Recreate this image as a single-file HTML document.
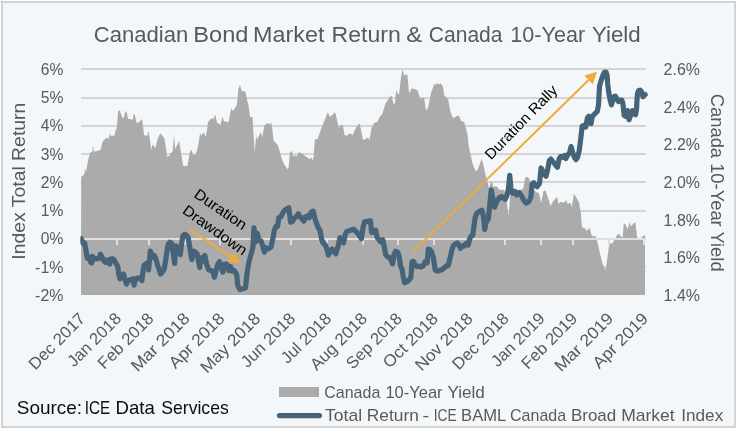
<!DOCTYPE html>
<html lang="en"><head><meta charset="utf-8"><title>Canadian Bond Market Return &amp; Canada 10-Year Yield</title>
<style>html,body{margin:0;padding:0;background:#fff}svg{display:block;will-change:transform;filter:opacity(1)}text{font-family:"Liberation Sans", sans-serif}</style>
</head><body>
<svg width="737" height="428" viewBox="0 0 737 428">
<rect x="0" y="0" width="737" height="428" fill="#ffffff"/>
<rect x="1" y="1" width="735" height="427" fill="#d3d3d3"/>
<rect x="3" y="3" width="731" height="423" fill="#f3f7fa"/>
<rect x="1" y="1" width="1" height="1" fill="#8f8f8f"/>
<g stroke="#d4d4d4" stroke-width="2">
<line x1="81" y1="267" x2="646" y2="267"/>
<line x1="81" y1="211" x2="646" y2="211"/>
<line x1="81" y1="182" x2="646" y2="182"/>
<line x1="81" y1="154" x2="646" y2="154"/>
<line x1="81" y1="126" x2="646" y2="126"/>
<line x1="81" y1="98" x2="646" y2="98"/>
<line x1="81" y1="69" x2="646" y2="69"/>
</g>
<polygon fill="#ababab" points="81 295,81.2,176.8 84.1,174.7 85,168.2 86,172.5 86.9,166.9 88.5,158.2 90.1,152.8 92.3,151.7 93,145.2 93.9,151.7 96.1,151.2 99.3,150.6 101,149 102.6,141.4 104.8,139.2 107.5,137.6 108.6,139.2 110.2,133.3 111,136 114.5,135.6 115.6,130 116.67,128.67 118.09,111.37 119.72,110.35 122.37,118.09 123.79,117.48 125.22,111.98 126.44,111.37 128.07,119.1 130.92,119.1 132.14,120.94 133.77,114.42 134.58,113.81 136.41,122.56 139.06,122.56 141.5,119.1 142.31,120.53 144.15,135.18 147.2,135.79 148.62,130.71 151.27,150.04 152.49,144.55 155.34,148.01 157.78,138.44 160.23,133.35 163.48,137.22 164.5,138.85 167.15,156.76 168.98,156.15 172.64,151.06 174.07,134.78 175.08,149.02 179.15,140.88 180.37,149.02 183.22,165.92 187.29,165.92 189.94,152.08 191.57,149.63 192.99,154.72 195.64,154.72 198.08,145.97 200.12,132.74 201.13,135.79 203.17,132.74 204.19,133.15 205.82,137.22 208.26,121.55 210.29,119.51 212.33,118.09 213.35,119.51 215.18,114.42 217.01,122.56 220.47,125.01 222.44,116.64 224.07,121.32 228.55,122.33 231.19,108.49 233.23,110.94 236.89,104.83 238.32,89.16 239.95,85.09 241.98,91.19 245.44,91.19 247.07,100.35 248.49,105.44 250.12,117.04 252.56,117.04 254.6,152.25 256.23,134.95 257.04,140.04 260.71,131.9 262.33,136.99 264.37,125.79 266.4,123.76 269.46,123.15 270.47,125.18 271.7,122.74 273.53,141.06 273.6,139.8 274.7,141.9 276.8,144.1 277.9,145.7 279.5,150.6 281.2,157.1 283.3,162.6 285.5,166.4 288,169.6 288.8,165.8 289.9,152.8 290.9,151.2 292,151.7 292.8,156.6 293.6,154.4 294.5,157.1 295.3,154.4 296.4,157.1 297.4,154.4 298.5,152.8 299.6,152.3 301.2,153.3 303.4,154.4 305,156.1 307.8,157.7 309.9,159.3 311.2,157.1 312.6,160.4 313.7,156.1 314.8,139.2 317.5,139.2 321.15,128.85 324.82,119.69 327.87,112.16 329.91,116.64 332.35,115.01 334.59,112.56 335.6,113.58 338.66,127.83 340.08,125.79 342.73,124.78 344.56,134.95 346.59,135.97 347.82,134.55 350.26,133.32 352.7,134.95 355.96,127.83 359.62,123.15 363.08,140.04 365.52,139.02 368.17,137.6 369.48,140.36 371.51,128.15 374.16,123.06 377.21,122.04 379.65,116.95 382.3,113.9 385.35,103.72 387.39,100.67 389.42,97.62 391.46,95.58 393.49,103.72 394.92,103.72 396.14,90.09 397.56,93.55 398.99,94.56 401.02,77.26 402.45,69.12 404.08,75.23 407.33,74.62 409.17,93.55 411.4,88.46 414.86,89.07 417.51,90.49 420.36,98.64 424.02,97.62 426.06,110.44 428.09,107.79 431.15,92.53 433.59,86.02 434.4,83.57 435.42,85.2 437.05,82.76 438.27,84.39 440.71,83.57 441.93,84.8 442.95,86.83 444.38,95.58 448.04,99.04 450.48,111.86 452.92,117.97 455.57,116.95 457.61,115.53 459.64,116.95 461.07,121.02 464.12,122.04 465.75,127.13 467.6,135 468.5,144.4 470.5,154.6 472.6,163.8 475.6,170.9 477.7,169.9 481.7,158.5 483.8,166.8 485.5,174.6 487.8,183 489,188 491.37,180.53 493.41,186.64 496.46,186.23 499.51,189.69 503.58,189.69 505.62,192.74 507.65,209.02 508.67,215.13 510.09,196.81 512.74,193.76 515.79,187.65 517.83,190.71 520.88,189.69 523.32,188.67 524.95,178.49 526.99,176.46 529.02,178.49 531.06,182.56 533.09,189.69 536.15,191.72 539.2,193.76 541.23,202.92 543.27,191.72 545.31,190.3 548.36,198.85 550.39,205.97 553.45,200.88 557.11,196.81 558.53,203.93 560.57,201.9 564.64,202.51 566.07,199.86 567.69,203.93 570.14,202.51 571.76,206.99 573.8,193.76 575.83,196.81 578.89,201.9 580.92,213.09 581.94,227.34 585.23,228.5 586.87,231.54 588.04,229.21 589.67,228.04 591.54,235.05 593.88,236.68 595.51,235.51 597.38,242.06 599.25,250.23 600.89,257.24 602.76,264.25 604.39,267.76 605.56,270.09 606.73,263.08 607.9,253.74 609.07,245.56 610.23,243.22 612.57,243.22 614.91,238.55 617.24,235.05 618.88,233.41 620.75,236.21 622.62,237.38 623.79,223.36 625.42,224.53 627.76,229.21 629.63,221.5 630.79,226.87 633.6,223.36 635.47,222.2 637.1,237.38 640.61,238.55 642.94,236.21 644.58,235.05 645.51,238.55 645,238.55 645,295"/>
<g stroke="#dfdfdf" stroke-width="2">
<line x1="81" y1="239" x2="646" y2="239"/>
<line x1="81" y1="238" x2="81" y2="245"/>
<line x1="117" y1="238" x2="117" y2="245"/>
<line x1="149" y1="238" x2="149" y2="245"/>
<line x1="185" y1="238" x2="185" y2="245"/>
<line x1="220" y1="238" x2="220" y2="245"/>
<line x1="256" y1="238" x2="256" y2="245"/>
<line x1="291" y1="238" x2="291" y2="245"/>
<line x1="327" y1="238" x2="327" y2="245"/>
<line x1="363" y1="238" x2="363" y2="245"/>
<line x1="398" y1="238" x2="398" y2="245"/>
<line x1="434" y1="238" x2="434" y2="245"/>
<line x1="469" y1="238" x2="469" y2="245"/>
<line x1="505" y1="238" x2="505" y2="245"/>
<line x1="541" y1="238" x2="541" y2="245"/>
<line x1="573" y1="238" x2="573" y2="245"/>
<line x1="609" y1="238" x2="609" y2="245"/>
<line x1="644" y1="238" x2="644" y2="245"/>
</g>
<line x1="189.2" y1="229.2" x2="230.79" y2="256.68" stroke="#f0aa3c" stroke-width="2"/>
<polygon fill="#f0aa3c" points="240.8,263.3 227.48,261.69 234.1,251.68"/>
<line x1="413.2" y1="251.7" x2="588.62" y2="79.99" stroke="#f0aa3c" stroke-width="2"/>
<polygon fill="#f0aa3c" points="597.2,71.6 592.82,84.28 584.43,75.71"/>
<clipPath id="pc"><rect x="80.4" y="60" width="568" height="240"/></clipPath>
<polyline clip-path="url(#pc)" fill="none" stroke="#456379" stroke-width="5.2" stroke-linejoin="round" stroke-linecap="round" points="81.3,238.8 82.41,241.76 83.64,244.05 84.7,243.17 85.94,250.22 87.17,258.16 88.94,257.28 90.7,262.22 91.76,262.92 92.46,256.4 94.76,259.04 97.4,258.69 99.17,258.16 100.4,254.28 101.81,256.4 103.58,260.45 105.34,262.22 107.1,259.92 108.34,262.92 109.75,263.98 110.63,259.04 112.4,258.69 114.16,259.92 115.92,263.45 117.69,266.1 118.92,274.92 119.98,278.8 121.74,276.68 123.51,274.04 124.74,278.45 126.51,284.09 127.92,281.09 129.51,279.86 131.8,280.21 133.03,278.8 134.09,285.15 135.33,279.33 137.09,278.09 138.85,278.45 140.62,277.56 141.85,280.56 143.26,269.63 144.15,265.22 145.91,263.98 147.15,262.92 148.56,269.98 150.32,251.1 151.73,254.63 152.97,257.28 154.2,255.51 155.61,258.16 157.38,264.33 159.14,269.63 160.55,274.04 162.31,272.27 164.08,269.27 165.31,262.57 167.08,250.22 168.31,244.05 169.72,242.28 171.49,243.17 173.25,253.75 174.66,263.45 175.9,245.81 177.66,247.58 178.9,251.99 180.31,254.63 181.72,243.17 182.95,235.76 184.72,234.35 186.48,235.23 188.24,237.88 190.01,248.46 191.77,259.39 193.54,251.1 195.3,251.99 197.06,253.75 198.3,259.92 199.71,267.51 200,264.37 201.78,257.71 203.33,261.04 204.88,255.49 206.66,264.37 208.88,269.92 211.1,270.58 212.87,271.47 214.43,277.24 215.98,271.03 217.76,264.37 219.53,261.71 221.09,266.59 222.86,272.14 224.42,264.37 226.19,263.93 227.75,265.48 228.86,270.58 230.63,266.59 232.18,271.03 234.4,270.58 236.62,274.36 237.73,285.46 239.95,289.45 243.28,288.79 245.5,287.68 247.06,273.25 248.83,262.15 251.05,254.38 252.83,247.72 253.94,227.75 255.49,242.17 257.27,233.29 258.82,239.95 261.04,241.06 262.59,245.5 264.37,252.16 266.14,247.72 268.36,248.83 271.03,247.06 272.8,238.84 274.36,229.96 275.91,226.64 277.69,226.19 278.8,217.76 281.02,216.65 283.24,212.21 285.01,209.99 287.01,208.88 288.79,207.77 290.56,222.2 292.78,221.09 294.33,217.76 296.55,216.65 298.33,213.76 299.88,216.65 302.1,218.87 303.88,221.09 305.43,216.65 307.65,215.98 309.21,217.76 310.98,212.21 313.2,211.1 314.98,218.87 316.53,223.31 318.75,228.86 320,230.23 321.68,239.7 323.15,242.85 325.26,244.95 326.94,249.16 328.41,255.05 330.09,250.21 332.2,249.16 334.3,252.31 335.77,253.79 337.87,247.06 339.98,237.59 342.08,240.75 343.55,242.85 345.23,234.44 346.92,231.29 349.44,230.65 351.54,229.81 353.64,229.18 355.75,231.29 357.85,233.39 359.95,236.54 361.43,238.64 363.11,227.08 364.58,221.82 367.31,221.4 370.47,220.77 371.52,232.34 373.62,231.92 375.72,230.23 377.2,237.59 378.88,239.7 380.56,241.8 382.66,239.7 384.14,246 385.61,254.42 387.29,256.52 389.39,257.57 391.07,259.67 392.55,263.88 394.02,254.42 395.7,251.26 397.8,252.31 399.28,257.57 400.54,265.98 402.01,269.14 403.06,275.44 404.53,282.8 406.64,281.75 408.74,280.28 410.84,277.55 412.1,261.78 413.57,261.36 415.68,265.98 417.15,266.61 418.83,265.98 420.93,267.03 423.04,265.98 425.14,261.78 427.24,262.83 428.29,249.16 429.77,249.58 431.87,252.31 433.55,258.62 435.23,270.19 437.63,271.21 440.09,270.39 443.36,268.76 445.81,266.3 448.26,265.49 449.9,258.95 451.53,251.59 453.17,245.87 454.8,244.23 457.25,242.93 458.89,245.05 460.52,248.32 462.16,245.87 464.12,246.2 466.24,243.42 468.21,245.05 469.51,239.33 471.15,236.06 472.78,235.24 473.93,226.25 475.23,217.26 476.87,213.17 479.32,211.54 481.77,210.23 483.08,214.81 484.23,222.98 484.72,229.52 485.86,222.98 488.31,218.9 491.25,190.05 492.89,199.04 494.52,207.22 496.97,201.01 499.43,197.41 501.88,196.59 503.51,198.39 505.15,199.37 506.78,196.1 508.42,188.91 509.73,175.34 510.87,187.6 512.5,193.32 514.96,191.69 516.59,194.96 519.04,192.5 521.5,195.77 523.95,200.68 526.4,203.13 528.85,201.5 530.81,197.41 532.12,184.33 533.76,182.7 535.39,185.15 537.03,186.78 539.48,183.51 541.11,167.98 542.75,171.25 544.38,174.52 546.02,176.16 547.65,169.62 549.29,160.63 550.92,158.99 553.37,162.26 555.83,165.53 557.46,167.17 559.1,158.99 560.73,156.54 563.18,157.36 564.52,155.58 565.83,158.53 567.79,154.77 569.43,153.13 571.06,146.59 572.7,152.31 574.33,157.22 575.97,159.67 577.6,157.22 579.23,150.68 580.87,137.6 582.18,126.16 584.14,125.34 585.77,126.97 587.41,117.98 588.72,116.35 589.86,117.98 591.01,123.7 592.31,116.35 594.77,113.9 597.22,111.44 598.53,104.9 599.54,85.88 601.17,80.45 602.8,75.68 604.42,72.42 606.05,72.09 607.14,75.68 607.68,83.71 608.44,90.22 609.31,95.65 610.39,101.08 611.48,104.88 612.56,101.08 613.87,96.74 615.28,96.19 616.36,97.82 617.45,99.99 618.53,101.62 620.16,99.99 621.79,99.99 622.88,103.25 624.2,115.5 625.8,116.3 627.5,110.6 629.1,119.6 630.7,114.7 632.4,110.6 634,113.9 635.6,114.7 636.6,108 637,100 637.5,93.5 638.6,90.8 640.2,90.2 641.3,91.3 642.4,94.6 643,96.7 644,95.6 645.1,94.6"/>
<text y="41.7" font-size="21.5" fill="#595959"><tspan x="93.87" textLength="94.35" lengthAdjust="spacingAndGlyphs">Canadian</tspan> <tspan x="193.38" textLength="55.13" lengthAdjust="spacingAndGlyphs">Bond</tspan> <tspan x="253.1" textLength="71.34" lengthAdjust="spacingAndGlyphs">Market</tspan> <tspan x="331.62" textLength="69.16" lengthAdjust="spacingAndGlyphs">Return</tspan> <tspan x="406.17" textLength="15.91" lengthAdjust="spacingAndGlyphs">&amp;</tspan> <tspan x="428.82" textLength="73.65" lengthAdjust="spacingAndGlyphs">Canada</tspan> <tspan x="510.39" textLength="74.77" lengthAdjust="spacingAndGlyphs">10-Year</tspan> <tspan x="591.98" textLength="48.73" lengthAdjust="spacingAndGlyphs">Yield</tspan></text>
<text x="63.4" y="300.8" font-size="16.3" fill="#595959" text-anchor="end" textLength="28.3" lengthAdjust="spacingAndGlyphs">-2%</text>
<text x="63.4" y="272.55" font-size="16.3" fill="#595959" text-anchor="end" textLength="28.3" lengthAdjust="spacingAndGlyphs">-1%</text>
<text x="63.4" y="244.3" font-size="16.3" fill="#595959" text-anchor="end" textLength="22.6" lengthAdjust="spacingAndGlyphs">0%</text>
<text x="63.4" y="216.05" font-size="16.3" fill="#595959" text-anchor="end" textLength="22.6" lengthAdjust="spacingAndGlyphs">1%</text>
<text x="63.4" y="187.8" font-size="16.3" fill="#595959" text-anchor="end" textLength="22.6" lengthAdjust="spacingAndGlyphs">2%</text>
<text x="63.4" y="159.55" font-size="16.3" fill="#595959" text-anchor="end" textLength="22.6" lengthAdjust="spacingAndGlyphs">3%</text>
<text x="63.4" y="131.3" font-size="16.3" fill="#595959" text-anchor="end" textLength="22.6" lengthAdjust="spacingAndGlyphs">4%</text>
<text x="63.4" y="103.05" font-size="16.3" fill="#595959" text-anchor="end" textLength="22.6" lengthAdjust="spacingAndGlyphs">5%</text>
<text x="63.4" y="74.8" font-size="16.3" fill="#595959" text-anchor="end" textLength="22.6" lengthAdjust="spacingAndGlyphs">6%</text>
<text x="663.6" y="300.9" font-size="16.3" fill="#595959" textLength="36.4" lengthAdjust="spacingAndGlyphs">1.4%</text>
<text x="663.6" y="263.23" font-size="16.3" fill="#595959" textLength="36.4" lengthAdjust="spacingAndGlyphs">1.6%</text>
<text x="663.6" y="225.57" font-size="16.3" fill="#595959" textLength="36.4" lengthAdjust="spacingAndGlyphs">1.8%</text>
<text x="663.6" y="187.9" font-size="16.3" fill="#595959" textLength="36.4" lengthAdjust="spacingAndGlyphs">2.0%</text>
<text x="663.6" y="150.23" font-size="16.3" fill="#595959" textLength="36.4" lengthAdjust="spacingAndGlyphs">2.2%</text>
<text x="663.6" y="112.57" font-size="16.3" fill="#595959" textLength="36.4" lengthAdjust="spacingAndGlyphs">2.4%</text>
<text x="663.6" y="74.9" font-size="16.3" fill="#595959" textLength="36.4" lengthAdjust="spacingAndGlyphs">2.6%</text>
<text x="25" y="181.2" font-size="19" fill="#595959" text-anchor="middle" textLength="157" lengthAdjust="spacingAndGlyphs" transform="rotate(-90 25 181.2)">Index Total Return</text>
<text x="711.4" y="182.7" font-size="19" fill="#595959" text-anchor="middle" textLength="177.8" lengthAdjust="spacingAndGlyphs" transform="rotate(90 711.4 182.7)">Canada 10-Year Yield</text>
<text x="86.2" y="319.6" font-size="16.6" fill="#595959" text-anchor="end" textLength="72.17" lengthAdjust="spacingAndGlyphs" transform="rotate(-45 86.2 319.6)">Dec 2017</text>
<text x="122.18" y="319.6" font-size="16.6" fill="#595959" text-anchor="end" textLength="68.12" lengthAdjust="spacingAndGlyphs" transform="rotate(-45 122.18 319.6)">Jan 2018</text>
<text x="154.69" y="319.6" font-size="16.6" fill="#595959" text-anchor="end" textLength="71.15" lengthAdjust="spacingAndGlyphs" transform="rotate(-45 154.69 319.6)">Feb 2018</text>
<text x="190.67" y="319.6" font-size="16.6" fill="#595959" text-anchor="end" textLength="74.97" lengthAdjust="spacingAndGlyphs" transform="rotate(-45 190.67 319.6)">Mar 2018</text>
<text x="225.5" y="319.6" font-size="16.6" fill="#595959" text-anchor="end" textLength="70.59" lengthAdjust="spacingAndGlyphs" transform="rotate(-45 225.5 319.6)">Apr 2018</text>
<text x="261.48" y="319.6" font-size="16.6" fill="#595959" text-anchor="end" textLength="76.95" lengthAdjust="spacingAndGlyphs" transform="rotate(-45 261.48 319.6)">May 2018</text>
<text x="296.3" y="319.6" font-size="16.6" fill="#595959" text-anchor="end" textLength="68.99" lengthAdjust="spacingAndGlyphs" transform="rotate(-45 296.3 319.6)">Jun 2018</text>
<text x="332.29" y="319.6" font-size="16.6" fill="#595959" text-anchor="end" textLength="63.36" lengthAdjust="spacingAndGlyphs" transform="rotate(-45 332.29 319.6)">Jul 2018</text>
<text x="368.27" y="319.6" font-size="16.6" fill="#595959" text-anchor="end" textLength="72.92" lengthAdjust="spacingAndGlyphs" transform="rotate(-45 368.27 319.6)">Aug 2018</text>
<text x="403.1" y="319.6" font-size="16.6" fill="#595959" text-anchor="end" textLength="71.15" lengthAdjust="spacingAndGlyphs" transform="rotate(-45 403.1 319.6)">Sep 2018</text>
<text x="439.08" y="319.6" font-size="16.6" fill="#595959" text-anchor="end" textLength="69.97" lengthAdjust="spacingAndGlyphs" transform="rotate(-45 439.08 319.6)">Oct 2018</text>
<text x="473.91" y="319.6" font-size="16.6" fill="#595959" text-anchor="end" textLength="73.87" lengthAdjust="spacingAndGlyphs" transform="rotate(-45 473.91 319.6)">Nov 2018</text>
<text x="509.89" y="319.6" font-size="16.6" fill="#595959" text-anchor="end" textLength="72.17" lengthAdjust="spacingAndGlyphs" transform="rotate(-45 509.89 319.6)">Dec 2018</text>
<text x="545.88" y="319.6" font-size="16.6" fill="#595959" text-anchor="end" textLength="68.12" lengthAdjust="spacingAndGlyphs" transform="rotate(-45 545.88 319.6)">Jan 2019</text>
<text x="578.38" y="319.6" font-size="16.6" fill="#595959" text-anchor="end" textLength="71.15" lengthAdjust="spacingAndGlyphs" transform="rotate(-45 578.38 319.6)">Feb 2019</text>
<text x="614.36" y="319.6" font-size="16.6" fill="#595959" text-anchor="end" textLength="74.97" lengthAdjust="spacingAndGlyphs" transform="rotate(-45 614.36 319.6)">Mar 2019</text>
<text x="649.19" y="319.6" font-size="16.6" fill="#595959" text-anchor="end" textLength="70.59" lengthAdjust="spacingAndGlyphs" transform="rotate(-45 649.19 319.6)">Apr 2019</text>
<text x="193" y="196.5" font-size="14.9" fill="#000" textLength="60.2" lengthAdjust="spacingAndGlyphs" transform="rotate(34.5 193 196.5)">Duration</text>
<text x="181.5" y="212.5" font-size="14.9" fill="#000" textLength="75" lengthAdjust="spacingAndGlyphs" transform="rotate(35.4 181.5 212.5)">Drawdown</text>
<text x="491" y="160.4" font-size="14.9" fill="#000" textLength="96.7" lengthAdjust="spacingAndGlyphs" transform="rotate(-45.9 491 160.4)">Duration Rally</text>
<rect x="279" y="387" width="40" height="10" fill="#ababab"/>
<line x1="279.4" y1="415.6" x2="319.5" y2="415.6" stroke="#456379" stroke-width="5.1" stroke-linecap="round"/>
<text y="397.6" font-size="16.6" fill="#595959"><tspan x="324.28" textLength="56.02" lengthAdjust="spacingAndGlyphs">Canada</tspan> <tspan x="385.46" textLength="57.1" lengthAdjust="spacingAndGlyphs">10-Year</tspan> <tspan x="447.48" textLength="37.39" lengthAdjust="spacingAndGlyphs">Yield</tspan></text>
<text y="421.2" font-size="16.6" fill="#595959"><tspan x="325.14" textLength="36.98" lengthAdjust="spacingAndGlyphs">Total</tspan> <tspan x="366.79" textLength="52.12" lengthAdjust="spacingAndGlyphs">Return</tspan> <tspan x="422.58" textLength="6.78" lengthAdjust="spacingAndGlyphs">-</tspan> <tspan x="433.65" textLength="23.01" lengthAdjust="spacingAndGlyphs">ICE</tspan> <tspan x="461.07" textLength="44.56" lengthAdjust="spacingAndGlyphs">BAML</tspan> <tspan x="510.08" textLength="56.02" lengthAdjust="spacingAndGlyphs">Canada</tspan> <tspan x="570.92" textLength="45.34" lengthAdjust="spacingAndGlyphs">Broad</tspan> <tspan x="621.28" textLength="53.38" lengthAdjust="spacingAndGlyphs">Market</tspan> <tspan x="681.25" textLength="41.95" lengthAdjust="spacingAndGlyphs">Index</tspan></text>
<text y="414" font-size="19" fill="#0d0d0d"><tspan x="16.8" textLength="65.33" lengthAdjust="spacingAndGlyphs">Source:</tspan> <tspan x="84.79" textLength="25.46" lengthAdjust="spacingAndGlyphs">ICE</tspan> <tspan x="115.53" textLength="39.26" lengthAdjust="spacingAndGlyphs">Data</tspan> <tspan x="161.27" textLength="67.49" lengthAdjust="spacingAndGlyphs">Services</tspan></text>
</svg>
</body></html>
